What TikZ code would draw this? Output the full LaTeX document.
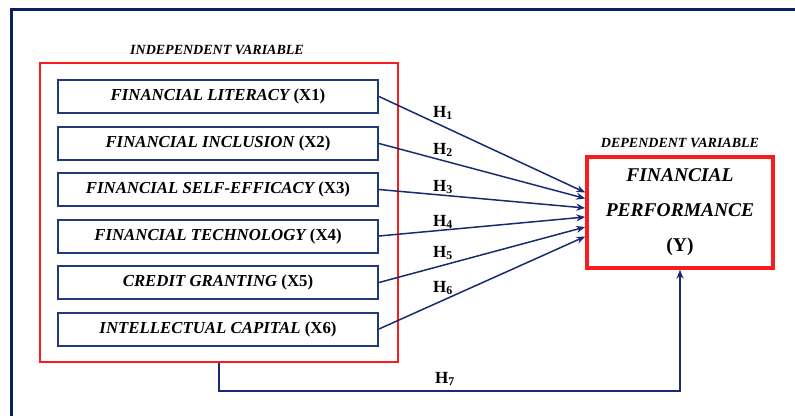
\documentclass[tikz,border=0pt]{standalone}
\usepackage{fontspec}
\setmainfont{Liberation Serif}
\usetikzlibrary{arrows.meta,calc}
\definecolor{navy}{RGB}{12,32,96}
\definecolor{boxnavy}{RGB}{32,58,120}
\definecolor{linenavy}{RGB}{22,44,110}
\definecolor{myred}{RGB}{250,28,28}
\tikzset{
  varbox/.style={draw=boxnavy,line width=2pt,minimum width=320pt,minimum height=33pt,inner sep=0pt,
    font=\fontsize{16.8}{18}\selectfont\bfseries},
  groupbox/.style={draw=myred,line width=1.5pt,minimum width=358pt,minimum height=299pt,inner sep=0pt},
  depbox/.style={draw=myred,line width=3.5pt,minimum width=186pt,minimum height=111pt,inner sep=0pt,
    align=center,font=\fontsize{19.5}{35}\selectfont\bfseries},
  heading/.style={font=\fontsize{14}{15}\selectfont\bfseries\itshape,inner sep=0pt},
  hlabel/.style={font=\fontsize{17}{18}\selectfont\bfseries,inner sep=0pt},
  link/.style={draw=linenavy,line width=1.5pt,-{Stealth[length=9pt,width=7pt]}},
}
\begin{document}
\begin{tikzpicture}[x=1pt,y=-1pt]
\useasboundingbox (0,0) rectangle (795,415);
% outer frame (partly cut by the image edge)
\draw[navy,line width=3pt] (11,416) -- (11,9.5) -- (796,9.5);

\node[heading] (indep) at (217,50) {INDEPENDENT VARIABLE};
\node[groupbox] (grp) at (219,212.5) {};
\node[varbox] (x1) at (218,96.5) {{\itshape FINANCIAL LITERACY} (X1)};
\node[varbox] (x2) at (218,143.5) {{\itshape FINANCIAL INCLUSION} (X2)};
\node[varbox] (x3) at (218,189.5) {{\itshape FINANCIAL SELF-EFFICACY} (X3)};
\node[varbox] (x4) at (218,236) {{\itshape FINANCIAL TECHNOLOGY} (X4)};
\node[varbox] (x5) at (218,282.5) {{\itshape CREDIT GRANTING} (X5)};
\node[varbox] (x6) at (218,329) {{\itshape INTELLECTUAL CAPITAL} (X6)};

\node[heading] (dep) at (680,143) {DEPENDENT VARIABLE};
\node[depbox] (y) at (680,212.5) {{\itshape FINANCIAL}\\{\itshape PERFORMANCE}\\(Y)};

\coordinate (t1) at ($(y.west)+(0,-20)$);
\coordinate (t2) at ($(y.west)+(0,-14)$);
\coordinate (t3) at ($(y.west)+(0,-4.5)$);
\coordinate (t4) at ($(y.west)+(0,4.5)$);
\coordinate (t5) at ($(y.west)+(0,14.5)$);
\coordinate (t6) at ($(y.west)+(0,24)$);
\draw[link] (x1.east) -- (t1);
\draw[link] (x2.east) -- (t2);
\draw[link] (x3.east) -- (t3);
\draw[link] (x4.east) -- (t4);
\draw[link] (x5.east) -- (t5);
\draw[link] (x6.east) -- (t6);

\node[hlabel] (h1) at (443,113) {H\textsubscript{1}};
\node[hlabel] (h2) at (443,150) {H\textsubscript{2}};
\node[hlabel] (h3) at (443,187) {H\textsubscript{3}};
\node[hlabel] (h4) at (443,222) {H\textsubscript{4}};
\node[hlabel] (h5) at (443,253) {H\textsubscript{5}};
\node[hlabel] (h6) at (443,288) {H\textsubscript{6}};

\coordinate (corner) at ($(y.south)+(0,121)$);
\draw[link] (grp.south) |- (corner) -- (y.south);
\node[hlabel] (h7) at (445,379) {H\textsubscript{7}};
\end{tikzpicture}
\end{document}
